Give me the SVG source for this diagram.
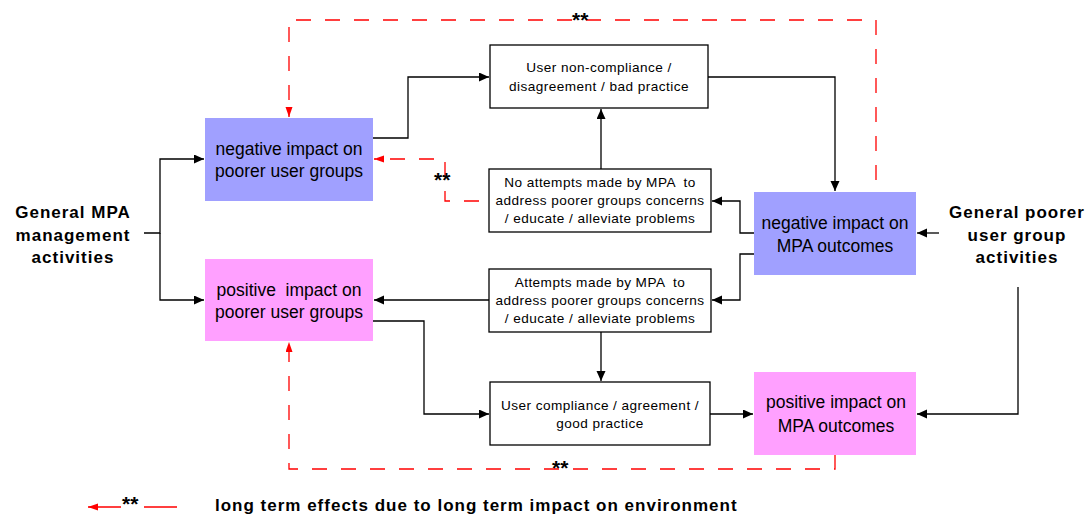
<svg xmlns="http://www.w3.org/2000/svg" width="1088" height="515" viewBox="0 0 1088 515">
  <style>
    .box { fill: #ffffff; stroke: #000000; stroke-width: 1.3; }
    .neg { fill: #a0a0ff; }
    .pos { fill: #ffa0ff; }
    .big { font-family: "Liberation Sans", Arial, sans-serif; font-size: 17.5px; fill: #000; text-anchor: middle; }
    .small { font-family: "Liberation Sans", Arial, sans-serif; font-size: 13.6px; fill: #000; text-anchor: middle; letter-spacing: 0.45px; }
    .side { font-family: "Liberation Sans", Arial, sans-serif; font-size: 17px; font-weight: bold; fill: #000; text-anchor: middle; letter-spacing: 1px; }
    .star { font-family: "Liberation Sans", Arial, sans-serif; font-size: 21px; font-weight: bold; fill: #000; }
    .flow { fill: none; stroke: #000000; stroke-width: 1.3; marker-end: url(#arrow); }
    .longterm { fill: none; stroke: #ff0000; stroke-width: 1.3; stroke-dasharray: 15 14; }
  </style>
  <defs>
    <marker id="arrow" markerUnits="userSpaceOnUse" markerWidth="11" markerHeight="10" refX="10" refY="4.5" orient="auto">
      <path d="M0,0 L10,4.5 L0,9 z" fill="#000000"/>
    </marker>
    <marker id="redarrow" markerUnits="userSpaceOnUse" markerWidth="11" markerHeight="8" refX="10" refY="3.5" orient="auto">
      <path d="M0,0 L10,3.5 L0,7 z" fill="#ff0000"/>
    </marker>
  </defs>

  <!-- connectors -->
  <g id="connectors">
    <!-- management activities fan out -->
    <path class="flow" d="M144,233 H160 V159 H204"/>
    <path class="flow" d="M160,233 V300 H204"/>
    <!-- negative path -->
    <path class="flow" d="M373,138 H408 V77 H489"/>
    <path class="flow" d="M708,77 H835 V191"/>
    <path class="flow" d="M601,169 V109"/>
    <path class="flow" d="M754,233 H740 V201 H712"/>
    <!-- positive path -->
    <path class="flow" d="M754,254 H740 V300 H712"/>
    <path class="flow" d="M489,300 H374"/>
    <path class="flow" d="M601,332 V381"/>
    <path class="flow" d="M373,321 H424 V414 H489"/>
    <path class="flow" d="M710,414 H753"/>
    <!-- user group activities -->
    <path class="flow" d="M939,233 H917"/>
    <path class="flow" d="M1018,287 V414 H917"/>
    <!-- long term feedback loops -->
    <path class="longterm" stroke-dashoffset="17" d="M876,192 V20 H289 V117" marker-end="url(#redarrow)"/>
    <path class="longterm" stroke-dashoffset="-10" d="M489,201 H445 V159 H374" marker-end="url(#redarrow)"/>
    <path class="longterm" d="M835,455 V469 H289 V342" marker-end="url(#redarrow)"/>
    <text class="star" x="572" y="27">**</text>
    <text class="star" x="434" y="187">**</text>
    <text class="star" x="552" y="475">**</text>
  </g>

  <!-- source labels -->
  <g id="mpa-management">
    <text class="side" x="73" y="218">General MPA</text>
    <text class="side" x="73" y="241">management</text>
    <text class="side" x="73" y="263">activities</text>
  </g>
  <g id="user-group-activities">
    <text class="side" x="1017" y="218">General poorer</text>
    <text class="side" x="1017" y="241">user group</text>
    <text class="side" x="1017" y="263">activities</text>
  </g>

  <!-- impact nodes -->
  <g id="neg-users">
    <rect class="neg" x="205" y="118" width="168" height="83"/>
    <text class="big" x="289" y="155">negative impact on</text>
    <text class="big" x="289" y="177">poorer user groups</text>
  </g>
  <g id="pos-users">
    <rect class="pos" x="205" y="259" width="168" height="82"/>
    <text class="big" x="289" y="296" xml:space="preserve">positive  impact on</text>
    <text class="big" x="289" y="318">poorer user groups</text>
  </g>
  <g id="neg-mpa">
    <rect class="neg" x="754" y="192" width="162" height="83"/>
    <text class="big" x="835" y="229">negative impact on</text>
    <text class="big" x="835" y="252">MPA outcomes</text>
  </g>
  <g id="pos-mpa">
    <rect class="pos" x="754" y="372" width="162" height="83"/>
    <text class="big" x="836" y="408">positive impact on</text>
    <text class="big" x="836" y="432">MPA outcomes</text>
  </g>

  <!-- behaviour nodes -->
  <g id="non-compliance">
    <rect class="box" x="490" y="45" width="218" height="63"/>
    <text class="small" x="599" y="72">User non-compliance /</text>
    <text class="small" x="599" y="91">disagreement / bad practice</text>
  </g>
  <g id="no-attempts">
    <rect class="box" x="489" y="169" width="222" height="63"/>
    <text class="small" x="600" y="187" xml:space="preserve">No attempts made by MPA  to</text>
    <text class="small" x="600" y="205">address poorer groups concerns</text>
    <text class="small" x="600" y="223">/ educate / alleviate problems</text>
  </g>
  <g id="attempts">
    <rect class="box" x="489" y="269" width="222" height="63"/>
    <text class="small" x="600" y="287" xml:space="preserve">Attempts made by MPA  to</text>
    <text class="small" x="600" y="305">address poorer groups concerns</text>
    <text class="small" x="600" y="323">/ educate / alleviate problems</text>
  </g>
  <g id="compliance">
    <rect class="box" x="490" y="382" width="220" height="63"/>
    <text class="small" x="600" y="410">User compliance / agreement /</text>
    <text class="small" x="600" y="428">good practice</text>
  </g>

  <!-- key -->
  <g id="legend">
    <path d="M177,507 H144 M121,507 H88" fill="none" stroke="#ff0000" stroke-width="1.3" marker-end="url(#redarrow)"/>
    <text class="star" x="122" y="511">**</text>
    <text class="side" x="215" y="511" style="text-anchor:start">long term effects due to long term impact on environment</text>
  </g>
</svg>
